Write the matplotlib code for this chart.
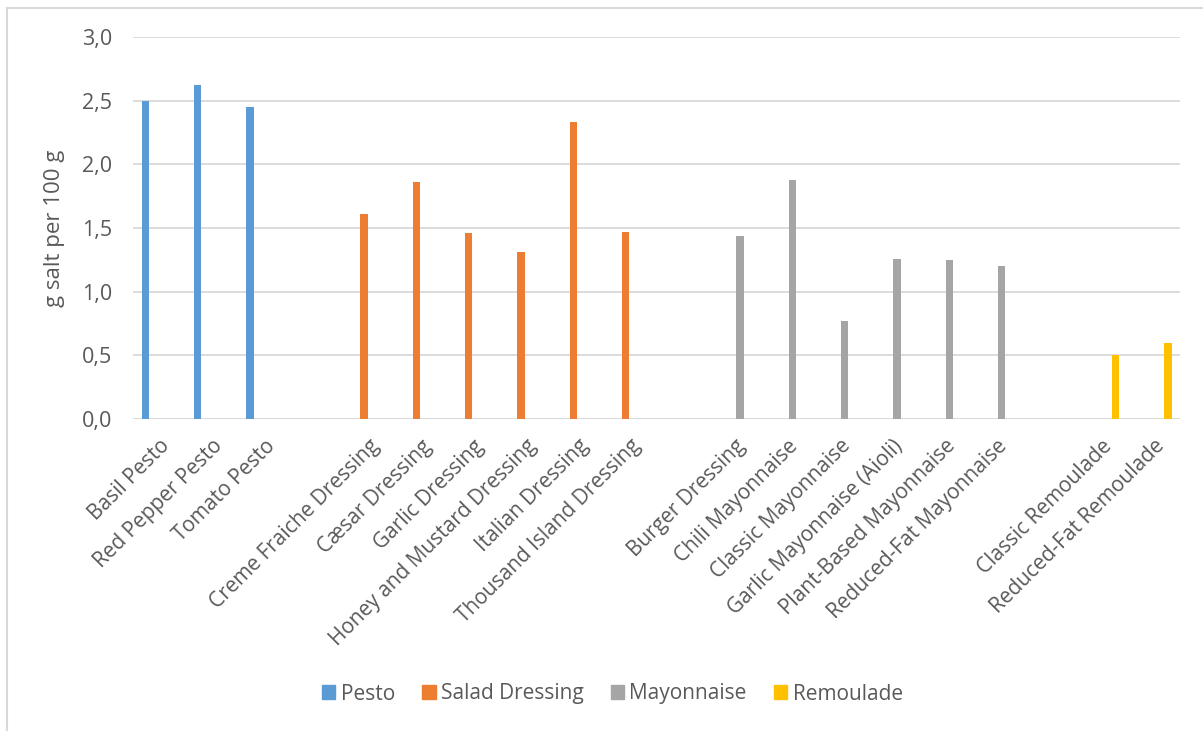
import numpy as np
import matplotlib.pyplot as plt
from matplotlib.lines import Line2D
from matplotlib.patches import Patch

plt.rcParams['font.family'] = ['Open Sans', 'DejaVu Sans']

# categories, blank slots separate the groups
labels = ["Basil Pesto", "Red Pepper Pesto", "Tomato Pesto", "",
          "Creme Fraiche Dressing", "Cæsar Dressing", "Garlic Dressing",
          "Honey and Mustard Dressing", "Italian Dressing", "Thousand Island Dressing", "",
          "Burger Dressing", "Chili Mayonnaise", "Classic Mayonnaise",
          "Garlic Mayonnaise (Aioli)", "Plant-Based Mayonnaise", "Reduced-Fat Mayonnaise", "",
          "Classic Remoulade", "Reduced-Fat Remoulade"]

series_names = ["Pesto", "Salad Dressing", "Mayonnaise", "Remoulade"]
colors = ["#5b9bd5", "#ed7d31", "#a5a5a5", "#ffc000"]

pesto = [2.50, 2.62, 2.45]
salad = [1.61, 1.86, 1.46, 1.31, 2.335, 1.47]
mayo = [1.435, 1.875, 0.77, 1.26, 1.245, 1.20]
remoulade = [0.50, 0.60]

# which slot each series starts at
starts = [0, 4, 11, 18]
values = [pesto, salad, mayo, remoulade]

fig = plt.figure(figsize=(12.03, 7.31), dpi=100)
ax = fig.add_axes([133.3/1203, 1-419/731, (1180-133.3)/1203, (419-37)/731])

n = len(labels)
x = np.arange(n)
step = 0.181
width = 0.14
for k in range(4):
    pos = np.arange(len(values[k])) + starts[k]
    ax.bar(pos + (k - 1.5) * step, values[k], width=width, color=colors[k],
           zorder=3, label=series_names[k])

ax.set_xlim(-0.5, n - 0.5)
ax.set_ylim(0, 3.0)
ax.set_yticks(np.arange(0, 3.01, 0.5))
ax.set_yticklabels([f"{v:.1f}".replace(".", ",") for v in np.arange(0, 3.01, 0.5)],
                   fontsize=15.5, color="#595959")
ax.set_xticks(x)
ax.set_xticklabels(labels, rotation=45, ha="right", va="top", rotation_mode="anchor",
                   fontsize=15, color="#595959")
ax.tick_params(axis="both", length=0)
ax.tick_params(axis="y", pad=15)
ax.tick_params(axis="x", pad=12)
ax.grid(axis="y", color="#d9d9d9", linewidth=1.3, zorder=0)
for s in ax.spines.values():
    s.set_visible(False)
ax.axhline(0, color="#d9d9d9", linewidth=1.3, zorder=2)

ax.set_ylabel("g salt per 100 g", fontsize=16, color="#595959", labelpad=12)

handles = [Patch(color=c, label=s) for c, s in zip(colors, series_names)]
fig.legend(handles=handles, loc="center", bbox_to_anchor=(0.509, 1-694/731), ncol=4,
           frameon=False, fontsize=15, handlelength=0.65, handleheight=0.65,
           handletextpad=0.25, columnspacing=1.3, labelcolor="#595959")

# chart area border (top and left visible)
fig.add_artist(Line2D([7/1203, 1], [1-8/731, 1-8/731], color="#d9d9d9", linewidth=1.5))
fig.add_artist(Line2D([7/1203, 7/1203], [0, 1-8/731], color="#d9d9d9", linewidth=1.5))

fig.savefig("out.png", dpi=100)
